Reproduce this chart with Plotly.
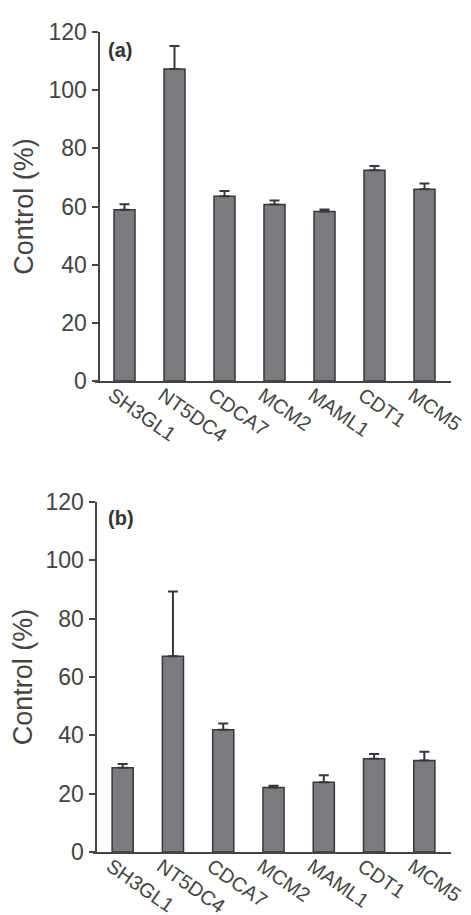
import plotly.graph_objects as go

categories = ["SH3GL1", "NT5DC4", "CDCA7", "MCM2", "MAML1", "CDT1", "MCM5"]
values_a = [58.9, 107.3, 63.5, 60.7, 58.3, 72.5, 65.9]
errors_a = [1.9, 7.9, 1.8, 1.4, 0.7, 1.4, 2.0]
values_b = [28.9, 67.1, 41.9, 22.1, 23.9, 32.0, 31.4]
errors_b = [1.3, 22.2, 2.2, 0.6, 2.4, 1.6, 3.0]
y_ticks = [0, 20, 40, 60, 80, 100, 120]

W, H = 471, 915
FONT = "Liberation Sans, Arial, Helvetica, sans-serif"
TXT = "#444444"
BAR = "#7a7a7f"
EDGE = "#383838"

fig = go.Figure()
for i, (vals, errs) in enumerate([(values_a, errors_a), (values_b, errors_b)]):
    sfx = "" if i == 0 else str(i + 1)
    fig.add_trace(go.Bar(
        x=list(range(len(categories))), y=vals, width=0.42,
        marker=dict(color=BAR, line=dict(color=EDGE, width=1.5)),
        error_y=dict(type="data", array=errs, arrayminus=[0] * len(errs),
                     symmetric=False, color=EDGE, thickness=2, width=5),
        xaxis="x" + sfx, yaxis="y" + sfx, showlegend=False,
    ))

def px_x(p):
    return p / W

def px_y(p):
    return 1 - p / H

common_x = dict(
    tickmode="array", tickvals=list(range(len(categories))), ticktext=categories,
    tickangle=35, ticks="", showline=True, linecolor=TXT, linewidth=2,
    showgrid=False, zeroline=False, range=[-0.59, 6.53],
    tickfont=dict(family=FONT, size=20, color=TXT), automargin=False,
    ticklabelshift=-12, ticklabelstandoff=-7,
)
common_y = dict(
    range=[0, 120], tickvals=y_ticks, ticks="outside", ticklen=6, tickwidth=2,
    tickcolor=TXT, showline=True, linecolor=TXT, linewidth=2, showgrid=False,
    zeroline=False, tickfont=dict(family=FONT, size=23, color=TXT),
    title=dict(text="Control (%)", font=dict(family=FONT, size=27, color=TXT), standoff=6),
    automargin=False, anchor="free",
)

fig.update_layout(
    width=W, height=H, margin=dict(l=0, r=0, t=0, b=0),
    plot_bgcolor="white", paper_bgcolor="white",
    xaxis=dict(common_x, domain=[px_x(87), px_x(443)], anchor="y"),
    yaxis=dict(common_y, domain=[px_y(373), px_y(24)], position=px_x(90.5)),
    xaxis2=dict(common_x, domain=[px_x(85), px_x(443)], anchor="y2"),
    yaxis2=dict(common_y, domain=[px_y(844), px_y(494)], position=px_x(87.5)),
    bargap=0.58,
    annotations=[
        dict(text="<b>(a)</b>", x=px_x(98), y=px_y(42), xref="paper", yref="paper",
             xanchor="left", yanchor="middle", showarrow=False,
             font=dict(family=FONT, size=20, color="#333333")),
        dict(text="<b>(b)</b>", x=px_x(98), y=px_y(510), xref="paper", yref="paper",
             xanchor="left", yanchor="middle", showarrow=False,
             font=dict(family=FONT, size=20, color="#333333")),
    ],
)

fig.write_html("out.html")
